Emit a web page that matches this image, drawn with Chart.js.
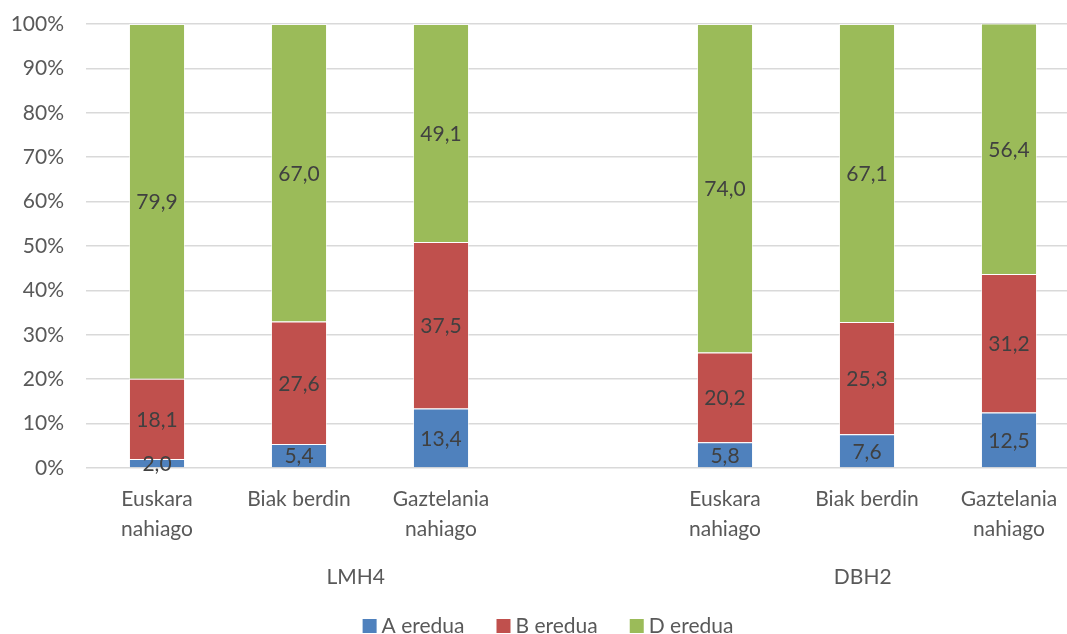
<!DOCTYPE html>
<html>
<head>
<meta charset="utf-8">
<script src="https://cdn.jsdelivr.net/npm/chart.js@4.4.1/dist/chart.umd.min.js"></script>
<style>
  html, body { margin: 0; padding: 0; background: #fff; overflow: hidden; }
  #wrap { width: 1090px; height: 634px; position: relative; }
</style>
</head>
<body>
<div id="wrap"><canvas id="chart"></canvas></div>
<script>
// categories (empty slot separates the two groups)
const categories = [
  ["Euskara", "nahiago"], "Biak berdin", ["Gaztelania", "nahiago"],
  "",
  ["Euskara", "nahiago"], "Biak berdin", ["Gaztelania", "nahiago"]
];
const groups = ["LMH4", "DBH2"];
const seriesNames = ["A eredua", "B eredua", "D eredua"];
const aEredua = [2.0, 5.4, 13.4, null, 5.8, 7.6, 12.5];
const bEredua = [18.1, 27.6, 37.5, null, 20.2, 25.3, 31.2];
const dEredua = [79.9, 67.0, 49.1, null, 74.0, 67.1, 56.4];
const yTicks = [0, 10, 20, 30, 40, 50, 60, 70, 80, 90, 100];

const FONT = "Lato, 'Open Sans', sans-serif";
const SIZE = 21;

// value labels in the middle of each segment
const valueLabels = {
  id: "valueLabels",
  afterDatasetsDraw(chart) {
    const ctx = chart.ctx;
    ctx.save();
    ctx.font = SIZE + "px " + FONT;
    ctx.fillStyle = "#404040";
    ctx.textAlign = "center";
    ctx.textBaseline = "middle";
    chart.data.datasets.forEach((ds, i) => {
      chart.getDatasetMeta(i).data.forEach((bar, j) => {
        const v = ds.data[j];
        if (v == null) return;
        ctx.fillText(v.toFixed(1).replace(".", ","), bar.x, (bar.y + bar.base) / 2 + 1);
      });
    });
    ctx.restore();
  }
};

// second-level category labels + legend
const extras = {
  id: "extras",
  afterDraw(chart) {
    const x = chart.scales.x;
    const ctx = chart.ctx;
    ctx.save();
    ctx.font = SIZE + "px " + FONT;
    ctx.fillStyle = "#595959";
    ctx.textAlign = "center";
    ctx.textBaseline = "middle";
    ctx.fillText(groups[0], x.getPixelForValue(1.4), 577);
    ctx.fillText(groups[1], x.getPixelForValue(4.97), 577);

    // legend
    const box = 14, gap = 5, spacing = 32, ly = 626;
    const items = chart.data.datasets.map(ds => ({
      text: ds.label, color: ds.backgroundColor, w: ctx.measureText(ds.label).width
    }));
    const total = items.reduce((s, it) => s + box + gap + it.w, 0) + spacing * (items.length - 1);
    let lx = 548 - total / 2;
    ctx.textAlign = "left";
    items.forEach(it => {
      ctx.fillStyle = it.color;
      ctx.fillRect(lx, ly - box / 2, box, box);
      ctx.fillStyle = "#595959";
      ctx.fillText(it.text, lx + box + gap, ly);
      lx += box + gap + it.w + spacing;
    });
    ctx.restore();
  }
};

new Chart(document.getElementById("chart"), {
  type: "bar",
  data: {
    labels: categories,
    datasets: [
      { label: seriesNames[0], data: aEredua, backgroundColor: "#4f81bd" },
      { label: seriesNames[1], data: bEredua, backgroundColor: "#c0504d" },
      { label: seriesNames[2], data: dEredua, backgroundColor: "#9bbb59" }
    ]
  },
  options: {
    responsive: true,
    maintainAspectRatio: false,
    animation: false,
    layout: { padding: { top: 24, right: 10, bottom: 38, left: 0 } },
    datasets: {
      bar: {
        categoryPercentage: 1,
        barPercentage: 0.395,
        borderColor: "rgba(255,255,255,0.6)",
        borderWidth: 1
      }
    },
    plugins: {
      legend: { display: false },
      tooltip: { enabled: false }
    },
    scales: {
      x: {
        stacked: true,
        grid: { display: false },
        border: { display: false },
        ticks: {
          font: { family: FONT, size: SIZE, lineHeight: 1.43 },
          color: "#595959",
          padding: 8,
          maxRotation: 0,
          autoSkip: false
        },
        afterFit(scale) { scale.height = 128; }
      },
      y: {
        stacked: true,
        min: 0,
        max: 100,
        afterBuildTicks(scale) { scale.ticks = yTicks.map(v => ({ value: v })); },
        grid: { color: "#d9d9d9", lineWidth: 1.5, drawTicks: false },
        border: { display: false },
        ticks: {
          font: { family: FONT, size: SIZE },
          color: "#595959",
          padding: 22,
          callback: v => v + "%"
        },
        afterFit(scale) {
          scale.width = 86;
          scale.paddingTop = 0;
          scale.paddingBottom = 0;
        }
      }
    }
  },
  plugins: [valueLabels, extras]
});
</script>
</body>
</html>
